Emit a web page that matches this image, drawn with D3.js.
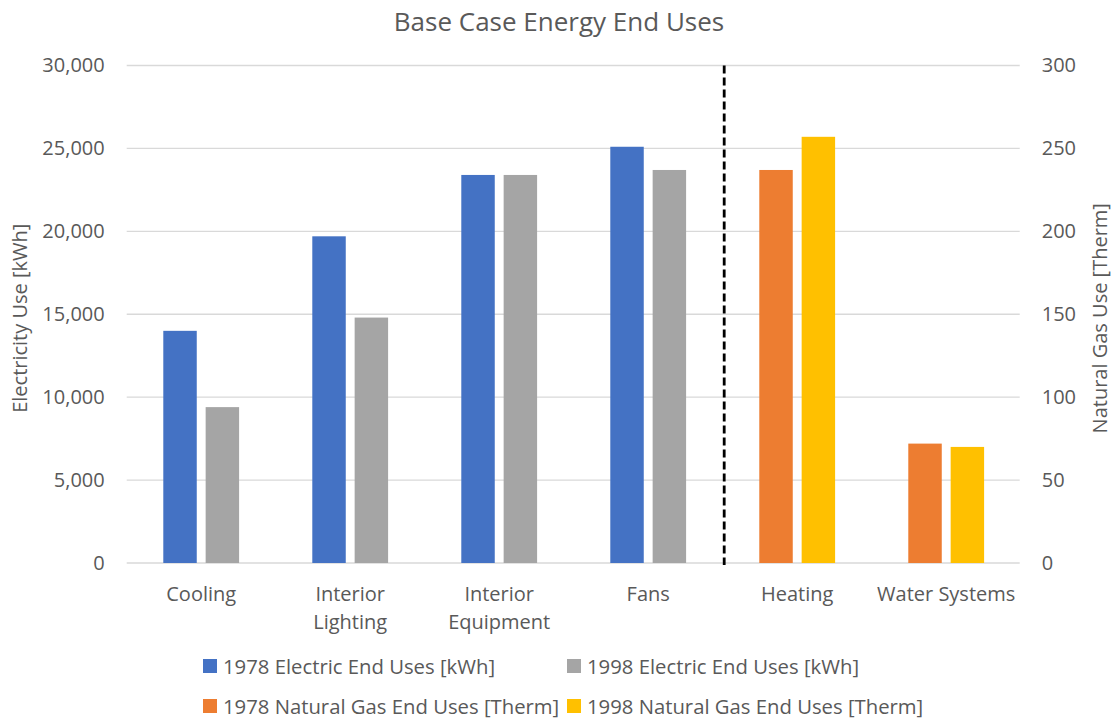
<!DOCTYPE html>
<html>
<head>
<meta charset="utf-8">
<script src="https://cdn.jsdelivr.net/npm/d3@7"></script>
<style>
  html, body { margin: 0; padding: 0; background: #ffffff; }
  svg { display: block; }
  text { font-family: "Open Sans", sans-serif; fill: #595959; }
</style>
</head>
<body>
<svg id="chart" width="1112" height="719"></svg>
<script>
// End-use categories and their two-line axis labels
const categories = ["Cooling", "Interior Lighting", "Interior Equipment", "Fans", "Heating", "Water Systems"];
const categoryLabels = [["Cooling"], ["Interior", "Lighting"], ["Interior", "Equipment"], ["Fans"], ["Heating"], ["Water Systems"]];

// Electricity end uses [kWh] (left axis)
const elec1978 = [14000, 19700, 23400, 25100, null, null];
const elec1998 = [9400, 14800, 23400, 23700, null, null];

// Natural gas end uses [Therm] (right axis)
const gas1978 = [null, null, null, null, 237, 72];
const gas1998 = [null, null, null, null, 257, 70];

// Axis ticks
const leftTicks = [0, 5000, 10000, 15000, 20000, 25000, 30000];
const rightTicks = [0, 50, 100, 150, 200, 250, 300];

const seriesNames = [
  "1978 Electric End Uses [kWh]",
  "1998 Electric End Uses [kWh]",
  "1978 Natural Gas End Uses [Therm]",
  "1998 Natural Gas End Uses [Therm]"
];
const seriesColors = ["#4472C4", "#A5A5A5", "#ED7D31", "#FFC000"];

const svg = d3.select("#chart");

const plot = { left: 126.7, right: 1020.7, top: 65.5, bottom: 563 };

const x = d3.scaleBand().domain(categories).range([plot.left, plot.right]).padding(0);
const xs = d3.scaleBand().domain([0, 1]).range([0, x.bandwidth()])
  .paddingInner(0.21).paddingOuter(0.864);
const yL = d3.scaleLinear().domain([0, 30000]).range([plot.bottom, plot.top]);
const yR = d3.scaleLinear().domain([0, 300]).range([plot.bottom, plot.top]);

// Gridlines
svg.append("g").selectAll("line").data(leftTicks).join("line")
  .attr("x1", plot.left).attr("x2", plot.right - 1)
  .attr("y1", d => yL(d)).attr("y2", d => yL(d))
  .attr("stroke", "#D9D9D9").attr("stroke-width", 1.3);

// Bars
const series = [
  { values: elec1978, slot: 0, y: yL, color: seriesColors[0] },
  { values: elec1998, slot: 1, y: yL, color: seriesColors[1] },
  { values: gas1978, slot: 0, y: yR, color: seriesColors[2] },
  { values: gas1998, slot: 1, y: yR, color: seriesColors[3] }
];
series.forEach(s => {
  const pts = categories.map((c, i) => ({ c, v: s.values[i] })).filter(d => d.v != null);
  svg.append("g").selectAll("rect").data(pts).join("rect")
    .attr("x", d => x(d.c) + xs(s.slot))
    .attr("width", xs.bandwidth())
    .attr("y", d => s.y(d.v))
    .attr("height", d => s.y(0) - s.y(d.v))
    .attr("fill", s.color);
});

// Divider between electric and gas end uses
const divX = x("Heating") + 1.5;
svg.append("line")
  .attr("x1", divX).attr("x2", divX)
  .attr("y1", plot.top).attr("y2", plot.bottom + 2)
  .attr("stroke", "#000").attr("stroke-width", 2.8)
  .attr("stroke-dasharray", "8,4");

// Left axis
const axL = svg.append("g").attr("transform", `translate(${plot.left},0)`)
  .call(d3.axisLeft(yL).tickValues(leftTicks).tickSize(0).tickPadding(22).tickFormat(d3.format(",")));
axL.select(".domain").remove();
axL.selectAll("text").attr("font-size", 20).attr("font-family", "Open Sans").attr("fill", "#595959");

// Right axis
const axR = svg.append("g").attr("transform", `translate(${plot.right - 1},0)`)
  .call(d3.axisRight(yR).tickValues(rightTicks).tickSize(0).tickPadding(22));
axR.select(".domain").remove();
axR.selectAll("text").attr("font-size", 20).attr("font-family", "Open Sans").attr("fill", "#595959");

// Category labels
const catG = svg.append("g");
categories.forEach((c, i) => {
  const t = catG.append("text")
    .attr("x", x(c) + x.bandwidth() / 2)
    .attr("y", 601)
    .attr("text-anchor", "middle")
    .attr("font-size", 20);
  categoryLabels[i].forEach((line, j) => {
    t.append("tspan").attr("x", x(c) + x.bandwidth() / 2).attr("dy", j === 0 ? 0 : 28).text(line);
  });
});

// Title
svg.append("text")
  .attr("x", 559).attr("y", 31)
  .attr("text-anchor", "middle")
  .attr("font-size", 26)
  .text("Base Case Energy End Uses");

// Axis titles
svg.append("text")
  .attr("transform", `translate(27,${(plot.top + plot.bottom) / 2 + 4}) rotate(-90)`)
  .attr("text-anchor", "middle")
  .attr("font-size", 20)
  .text("Electricity Use [kWh]");
svg.append("text")
  .attr("transform", `translate(1107,${(plot.top + plot.bottom) / 2 + 4}) rotate(-90)`)
  .attr("text-anchor", "middle")
  .attr("font-size", 20)
  .text("Natural Gas Use [Therm]");

// Legend
const legendCols = [203, 567];
const legendRows = [659, 699];
const legend = svg.append("g");
seriesNames.forEach((name, i) => {
  const lx = legendCols[i % 2];
  const ly = legendRows[Math.floor(i / 2)];
  legend.append("rect").attr("x", lx).attr("y", ly).attr("width", 14).attr("height", 14)
    .attr("fill", seriesColors[i]);
  legend.append("text").attr("x", lx + 20).attr("y", ly + 14.5)
    .attr("font-size", 20.3).text(name);
});
</script>
</body>
</html>
